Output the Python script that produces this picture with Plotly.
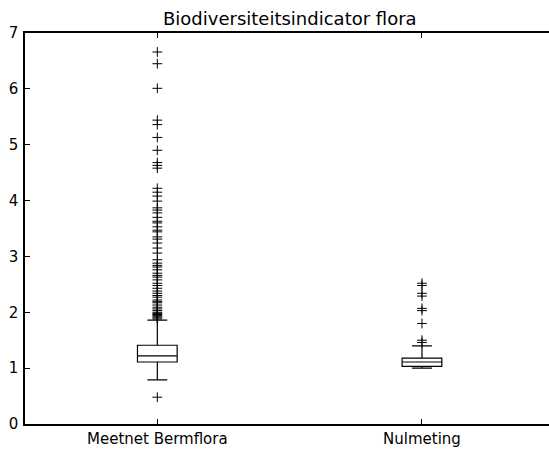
import plotly.graph_objects as go

# Box statistics per group
groups = ["Meetnet Bermflora", "Nulmeting"]
positions = [1, 2]
q1 = [1.11, 1.03]
median = [1.22, 1.11]
q3 = [1.41, 1.18]
lower_fence = [0.79, 1.00]
upper_fence = [1.86, 1.40]

# Outlying values (flier points)
outliers_bermflora = [
    6.66, 6.45, 6.01, 5.44, 5.36, 5.13, 4.90, 4.68, 4.63, 4.58,
    4.22, 4.15, 4.08, 3.99, 3.87, 3.83, 3.78, 3.70, 3.63, 3.60,
    3.53, 3.47, 3.44, 3.35, 3.31, 3.24, 3.15, 3.06, 2.94, 2.88,
    2.84, 2.81, 2.76, 2.70, 2.66, 2.63, 2.58, 2.52, 2.48, 2.43,
    2.38, 2.34, 2.30, 2.27, 2.22, 2.19, 2.17, 2.13, 2.09, 2.06,
    2.03, 2.00, 1.98, 1.96, 1.94, 1.92, 1.90, 1.88, 0.48,
]
outliers_nulmeting = [2.52, 2.48, 2.34, 2.29, 2.07, 2.03, 1.80, 1.50, 1.46]

y_ticks = [0, 1, 2, 3, 4, 5, 6, 7]

FONT = "DejaVu Sans"
fig = go.Figure()

fig.add_trace(go.Box(
    x=positions, q1=q1, median=median, q3=q3,
    lowerfence=lower_fence, upperfence=upper_fence,
    width=0.15, whiskerwidth=0.5,
    fillcolor="white", line=dict(color="black", width=1.2),
    boxpoints=False, showlegend=False, hoverinfo="skip",
))

for pos, vals in zip(positions, [outliers_bermflora, outliers_nulmeting]):
    fig.add_trace(go.Scatter(
        x=[pos] * len(vals), y=vals, mode="markers",
        marker=dict(symbol="cross-thin", size=7,
                    line=dict(color="black", width=1)),
        showlegend=False, hoverinfo="skip",
    ))

fig.update_layout(
    width=549, height=452,
    margin=dict(l=25, r=0, t=33, b=28),
    paper_bgcolor="white", plot_bgcolor="white",
    font=dict(family=FONT, size=15, color="black"),
    annotations=[dict(
        text="Biodiversiteitsindicator flora", xref="paper", yref="paper",
        x=0.506, y=1, xanchor="center", yanchor="bottom", yshift=2,
        showarrow=False, font=dict(family=FONT, size=18, color="black"),
    )],
)

fig.update_xaxes(
    range=[0.5, 2.48], tickvals=positions, ticktext=groups,
    ticks="inside", ticklen=5, tickcolor="black",
    showline=True, linecolor="black", linewidth=1.5, mirror="allticks",
    showgrid=False, zeroline=False,
)
fig.update_yaxes(
    range=[0, 7], tickvals=y_ticks,
    ticks="inside", ticklen=5, tickcolor="black",
    showline=True, linecolor="black", linewidth=1.5,
    showgrid=False, zeroline=False, ticklabelstandoff=2,
)

fig.write_html("out.html")
